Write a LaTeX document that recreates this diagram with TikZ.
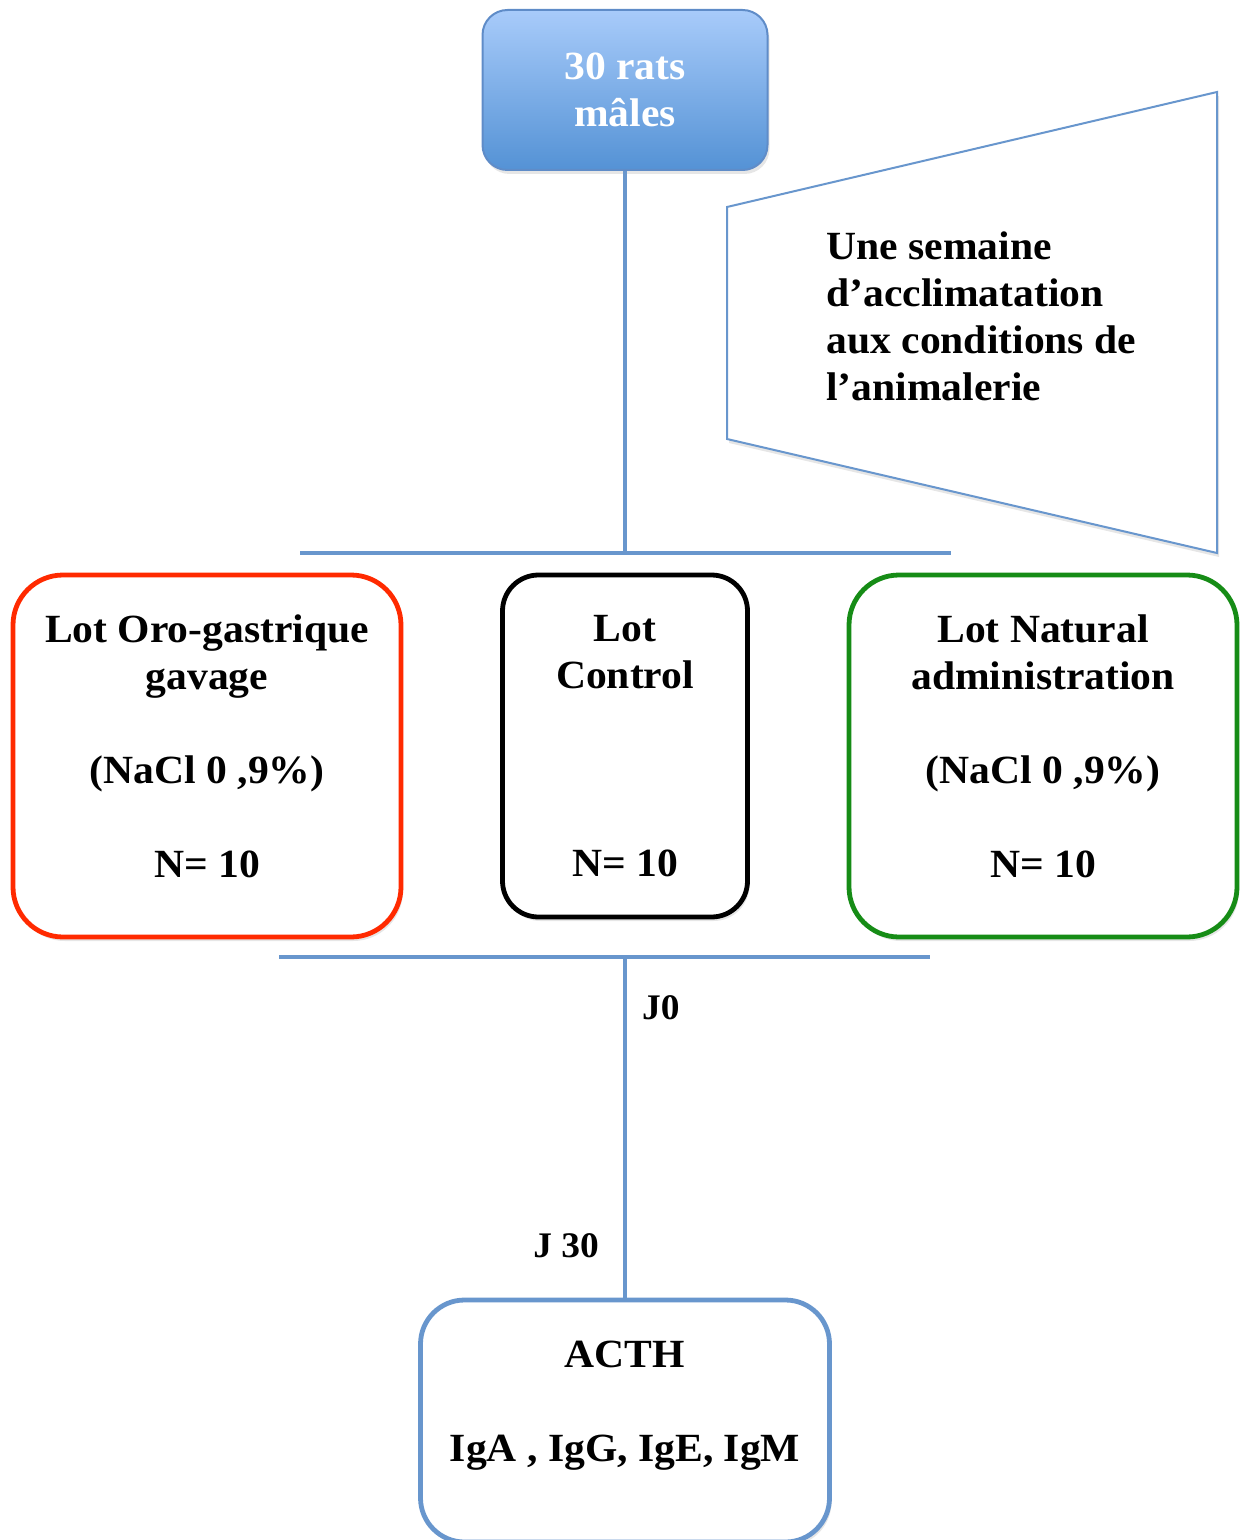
\documentclass[tikz,border=0pt]{standalone}
\usepackage{fontspec}
\setmainfont[FakeStretch=1.04]{Liberation Serif}
\usetikzlibrary{positioning, shadows}

\definecolor{linkblue}{RGB}{104,150,205}
\definecolor{ratstop}{RGB}{168,203,250}
\definecolor{ratsbottom}{RGB}{84,146,213}
\definecolor{ratsedge}{RGB}{95,140,200}
\definecolor{oroRed}{RGB}{255,42,0}
\definecolor{natGreen}{RGB}{22,140,22}

% empty strut that pushes a node text upwards
\newcommand{\padbelow}[1]{\rule[-#1]{0pt}{#1}}

\tikzset{
  link/.style={draw=linkblue, line width=2.2pt},
  softshadow/.style={drop shadow={opacity=0.2, shadow xshift=1pt, shadow yshift=-2pt}},
  ratsbox/.style={draw=ratsedge, line width=1pt, top color=ratstop, bottom color=ratsbottom,
    rounded corners=12.5pt, minimum width=142.5pt, minimum height=80pt,
    text=white, align=center, inner sep=0pt, softshadow},
  lot/.style={draw=#1, fill=white, line width=2.4pt, rounded corners=25pt,
    minimum width=194pt, minimum height=181pt, align=center, inner sep=0pt, softshadow},
  dosagebox/.style={draw=linkblue, fill=white, line width=2.4pt, rounded corners=22pt,
    minimum width=204.5pt, minimum height=121pt, align=center, inner sep=0pt, softshadow},
  acclimshape/.style={draw=linkblue, fill=white, line width=1pt, softshadow},
  jlabel/.style={inner sep=0pt, font=\bfseries\fontsize{18}{21}\selectfont}
}

\begin{document}
\begin{tikzpicture}[x=0.5pt, y=-0.5pt, font=\bfseries\fontsize{20}{23.5}\selectfont]
\useasboundingbox (0,0) rectangle (1241,1540);

% Starting group
\node[ratsbox] (rats) at (625,90) {30 rats\\mâles};

% Acclimatation week
\draw[acclimshape] (727,207) -- (1217,92) -- (1217,553) -- (727,439) -- cycle;
\node[anchor=west, align=left, inner sep=0pt] (acclim) at (826,316)
  {Une semaine\\d’acclimatation\\aux conditions de\\l’animalerie};

% Split into three lots
\coordinate (split) at (625,553);
\coordinate (splitL) at (300,553);
\coordinate (splitR) at (951,553);
\draw[link] (rats.south) -- (split);
\draw[link] (splitL) -- (splitR);

% The three lots
\node[lot=oroRed] (oro) at (207,756)
  {Lot Oro-gastrique\\gavage\\[23.5pt](NaCl 0 ,9\%)\\[23.5pt]N= 10\padbelow{10pt}};
\node[lot=black, minimum width=122.5pt, minimum height=171pt, rounded corners=18pt] (control) at (625,746)
  {Lot\\Control\\[70.5pt]N= 10};
\node[lot=natGreen] (natural) at (1043,756)
  {Lot Natural\\administration\\[23.5pt](NaCl 0 ,9\%)\\[23.5pt]N= 10\padbelow{10pt}};

% Join after the lots
\coordinate (join) at (625,957);
\coordinate (joinL) at (279,957);
\coordinate (joinR) at (930,957);
\draw[link] (joinL) -- (joinR);

% Dosages at day 30
\node[dosagebox] (dosage) at (625,1421)
  {ACTH\\[23.5pt]IgA , IgG, IgE, IgM\padbelow{19.5pt}};
\draw[link] (join) -- node[pos=0.149, right=7.5pt, jlabel] (j0) {J0}
  node[pos=0.848, left=12pt, jlabel] (j30) {J 30} (dosage);
\end{tikzpicture}
\end{document}
